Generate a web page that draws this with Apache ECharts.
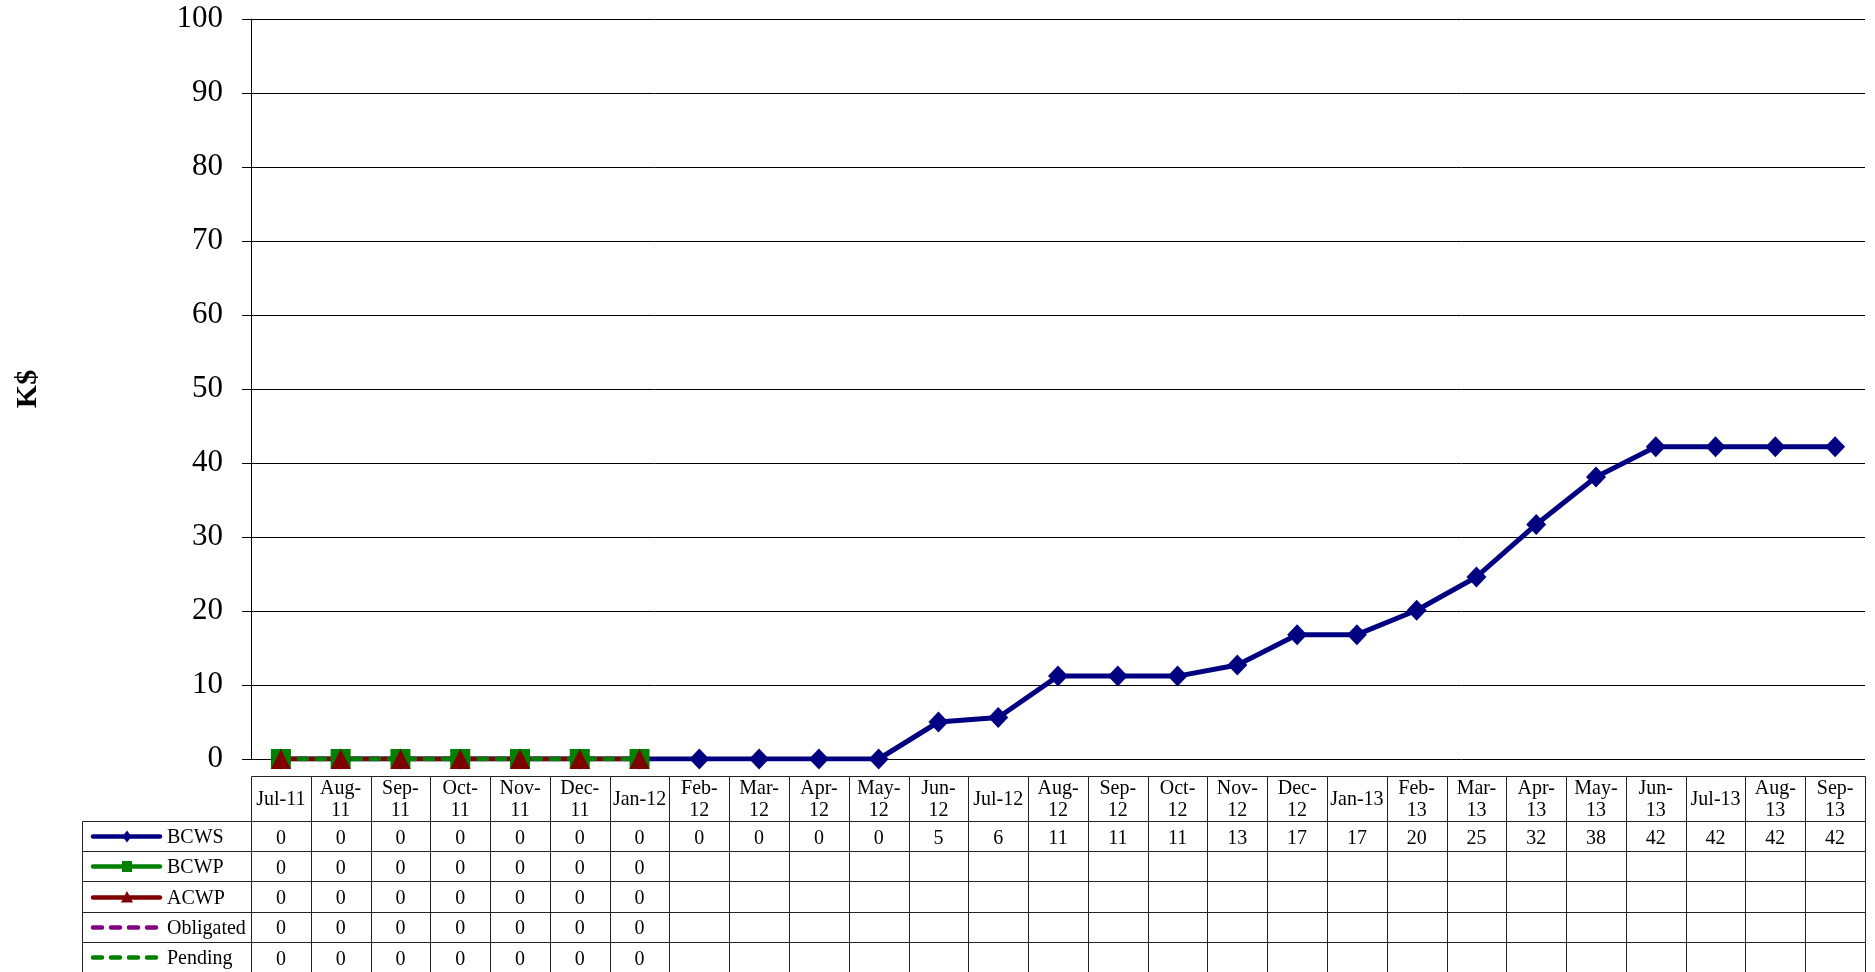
<!DOCTYPE html>
<html>
<head>
<meta charset="utf-8">
<title>K$ Earned Value</title>
<script src="https://cdn.jsdelivr.net/npm/echarts@6/dist/echarts.min.js"></script>
<style>
  html, body { margin: 0; padding: 0; background: #fff; }
  #chart { width: 1875px; height: 972px; }
</style>
</head>
<body>
<div id="chart"></div>
<script>
// Months along the category axis
const categories = ['Jul-11','Aug-11','Sep-11','Oct-11','Nov-11','Dec-11','Jan-12','Feb-12','Mar-12','Apr-12','May-12','Jun-12','Jul-12','Aug-12','Sep-12','Oct-12','Nov-12','Dec-12','Jan-13','Feb-13','Mar-13','Apr-13','May-13','Jun-13','Jul-13','Aug-13','Sep-13'];
// Header cell text of the data table (wrapped as in the table)
const headerLabels = ['Jul-11','Aug-\n11','Sep-\n11','Oct-\n11','Nov-\n11','Dec-\n11','Jan-12','Feb-\n12','Mar-\n12','Apr-\n12','May-\n12','Jun-\n12','Jul-12','Aug-\n12','Sep-\n12','Oct-\n12','Nov-\n12','Dec-\n12','Jan-13','Feb-\n13','Mar-\n13','Apr-\n13','May-\n13','Jun-\n13','Jul-13','Aug-\n13','Sep-\n13'];

// Series values (K$)
const bcws = [0,0,0,0,0,0,0,0,0,0,0,5.0,5.6,11.2,11.2,11.2,12.7,16.8,16.8,20.1,24.6,31.7,38.1,42.2,42.2,42.2,42.2];
const bcwp = [0,0,0,0,0,0,0,null,null,null,null,null,null,null,null,null,null,null,null,null,null,null,null,null,null,null,null];
const acwp = [0,0,0,0,0,0,0,null,null,null,null,null,null,null,null,null,null,null,null,null,null,null,null,null,null,null,null];
const obligated = [0,0,0,0,0,0,0,null,null,null,null,null,null,null,null,null,null,null,null,null,null,null,null,null,null,null,null];
const pending = [0,0,0,0,0,0,0,null,null,null,null,null,null,null,null,null,null,null,null,null,null,null,null,null,null,null,null];

// Value axis ticks
const yMin = 0, yMax = 100, yStep = 10;

const seriesNames = ['BCWS','BCWP','ACWP','Obligated','Pending'];
const seriesValues = [bcws, bcwp, acwp, obligated, pending];
const seriesColors = ['#000080','#008000','#800000','#800080','#008000'];
const seriesSymbols = ['diamond','rect','triangle','none','none'];
const seriesDashed = [false,false,false,true,true];

const SERIF = '"Liberation Serif", "Times New Roman", serif';
const BORDER = '#222';
const DASH = [8, 10];
const TABLE_FONT = '20px ' + SERIF;
const TEXT_STRETCH = 1.1; // table text is slightly taller than wide

// Line series of the chart
const lineSeries = seriesNames.map((name, i) => ({
  name,
  type: 'line',
  xAxisIndex: 0,
  yAxisIndex: 0,
  data: seriesValues[i],
  symbol: seriesSymbols[i],
  symbolSize: i === 0 ? [20, 21] : 20,
  showSymbol: seriesSymbols[i] !== 'none',
  connectNulls: false,
  lineStyle: {
    color: seriesColors[i],
    width: i === 0 ? 5 : 4.5,
    type: seriesDashed[i] ? DASH : 'solid',
    cap: seriesDashed[i] ? 'round' : 'butt'
  },
  itemStyle: { color: seriesColors[i], borderWidth: 0 },
  emphasis: { disabled: true },
  silent: true,
  z: 3
}));

function cellRect(cx, cy, w, h) {
  const x0 = Math.round(cx - w / 2) + 0.5;
  const x1 = Math.round(cx + w / 2) + 0.5;
  const y0 = Math.round(cy - h / 2) + 0.5;
  const y1 = Math.round(cy + h / 2) + 0.5;
  return {
    type: 'rect',
    shape: { x: x0, y: y0, width: x1 - x0, height: y1 - y0 },
    style: { fill: 'none', stroke: BORDER, lineWidth: 1 }
  };
}

// Table text, stretched vertically around its anchor point
function cellText(text, x, y, align) {
  return {
    type: 'text',
    x, y,
    scaleY: TEXT_STRETCH,
    style: {
      text, x: 0, y: 0,
      align, verticalAlign: 'middle',
      font: TABLE_FONT, lineHeight: 20, fill: '#000'
    }
  };
}

// Header row of the table
const headerData = categories.map((c, i) => [i, 0]);
const headerSeries = {
  type: 'custom',
  xAxisIndex: 1,
  yAxisIndex: 1,
  silent: true,
  data: headerData,
  renderItem(params, api) {
    const col = api.value(0);
    const p = api.coord([col, 0]);
    const s = api.size([1, 1]);
    return {
      type: 'group',
      children: [
        cellRect(p[0], p[1], s[0], s[1]),
        cellText(headerLabels[col], p[0], p[1] + 1, 'center')
      ]
    };
  }
};

// Value cells of the table
const bodyData = [];
seriesValues.forEach((vals, r) => vals.forEach((v, c) => bodyData.push([c, r])));
const bodySeries = {
  type: 'custom',
  xAxisIndex: 2,
  yAxisIndex: 2,
  silent: true,
  data: bodyData,
  renderItem(params, api) {
    const col = api.value(0), row = api.value(1);
    const p = api.coord([col, row]);
    const s = api.size([1, 1]);
    const v = seriesValues[row][col];
    return {
      type: 'group',
      children: [
        cellRect(p[0], p[1], s[0], s[1]),
        cellText(v == null ? '' : String(Math.round(v)), p[0], p[1] + 2, 'center')
      ]
    };
  }
};

function keySymbol(kind, x, y, color) {
  if (kind === 'diamond') {
    return { type: 'polygon', shape: { points: [[x, y - 6], [x + 4.5, y], [x, y + 6], [x - 4.5, y]] }, style: { fill: color } };
  }
  if (kind === 'rect') {
    return { type: 'rect', shape: { x: x - 5, y: y - 5.5, width: 10, height: 11 }, style: { fill: color } };
  }
  if (kind === 'triangle') {
    return { type: 'polygon', shape: { points: [[x, y - 6.5], [x + 6, y + 5], [x - 6, y + 5]] }, style: { fill: color } };
  }
  return null;
}

// Key column of the table
const keyData = seriesNames.map((n, r) => [0.5, r]);
const keySeries = {
  type: 'custom',
  xAxisIndex: 3,
  yAxisIndex: 3,
  silent: true,
  data: keyData,
  renderItem(params, api) {
    const row = api.value(1);
    const p = api.coord([0.5, row]);
    const s = api.size([1, 1]);
    const left = params.coordSys.x;
    const cy = Math.round(p[1]) + 0.5;
    const children = [
      cellRect(p[0], p[1], params.coordSys.width, s[1]),
      {
        type: 'line',
        shape: { x1: left + 11, y1: cy, x2: left + 78, y2: cy },
        style: {
          stroke: seriesColors[row], lineWidth: 4.5,
          lineDash: seriesDashed[row] ? [9, 9] : null,
          lineCap: 'round'
        }
      }
    ];
    const sym = keySymbol(seriesSymbols[row], left + 45, cy, seriesColors[row]);
    if (sym) children.push(sym);
    children.push(cellText(seriesNames[row], left + 85, cy + 1, 'left'));
    return { type: 'group', children };
  }
};

const hiddenCat = (gridIndex, data) => ({
  type: 'category', gridIndex, data, show: false, boundaryGap: true
});

const option = {
  animation: false,
  backgroundColor: '#fff',
  grid: [
    { left: 251, right: 10, top: 19, height: 740 },
    { left: 251, right: 10, top: 776, height: 45 },
    { left: 251, right: 10, top: 821, height: 153 },
    { left: 82, width: 169, top: 821, height: 153 }
  ],
  xAxis: [
    {
      type: 'category', gridIndex: 0, data: categories, boundaryGap: true,
      axisLine: { show: false }, axisTick: { show: false }, axisLabel: { show: false }
    },
    hiddenCat(1, categories),
    hiddenCat(2, categories),
    { type: 'value', gridIndex: 3, min: 0, max: 1, show: false }
  ],
  yAxis: [
    {
      type: 'value', gridIndex: 0, min: yMin, max: yMax, interval: yStep,
      name: 'K$', nameLocation: 'middle', nameGap: 208, nameRotate: 90,
      nameTextStyle: { fontFamily: SERIF, fontSize: 30, fontWeight: 'bold', color: '#000' },
      axisLine: { show: true, lineStyle: { color: '#000', width: 1 } },
      axisTick: { show: true, inside: false, length: 9, lineStyle: { color: '#000', width: 1 } },
      axisLabel: { fontFamily: SERIF, fontSize: 31, color: '#000', margin: 28 },
      splitLine: { show: true, lineStyle: { color: '#000', width: 1 } }
    },
    hiddenCat(1, ['header']),
    Object.assign(hiddenCat(2, seriesNames), { inverse: true }),
    Object.assign(hiddenCat(3, seriesNames), { inverse: true })
  ],
  series: [headerSeries, bodySeries, keySeries].concat(lineSeries)
};

const chart = echarts.init(document.getElementById('chart'), null, { renderer: 'canvas' });
chart.setOption(option);
</script>
</body>
</html>
